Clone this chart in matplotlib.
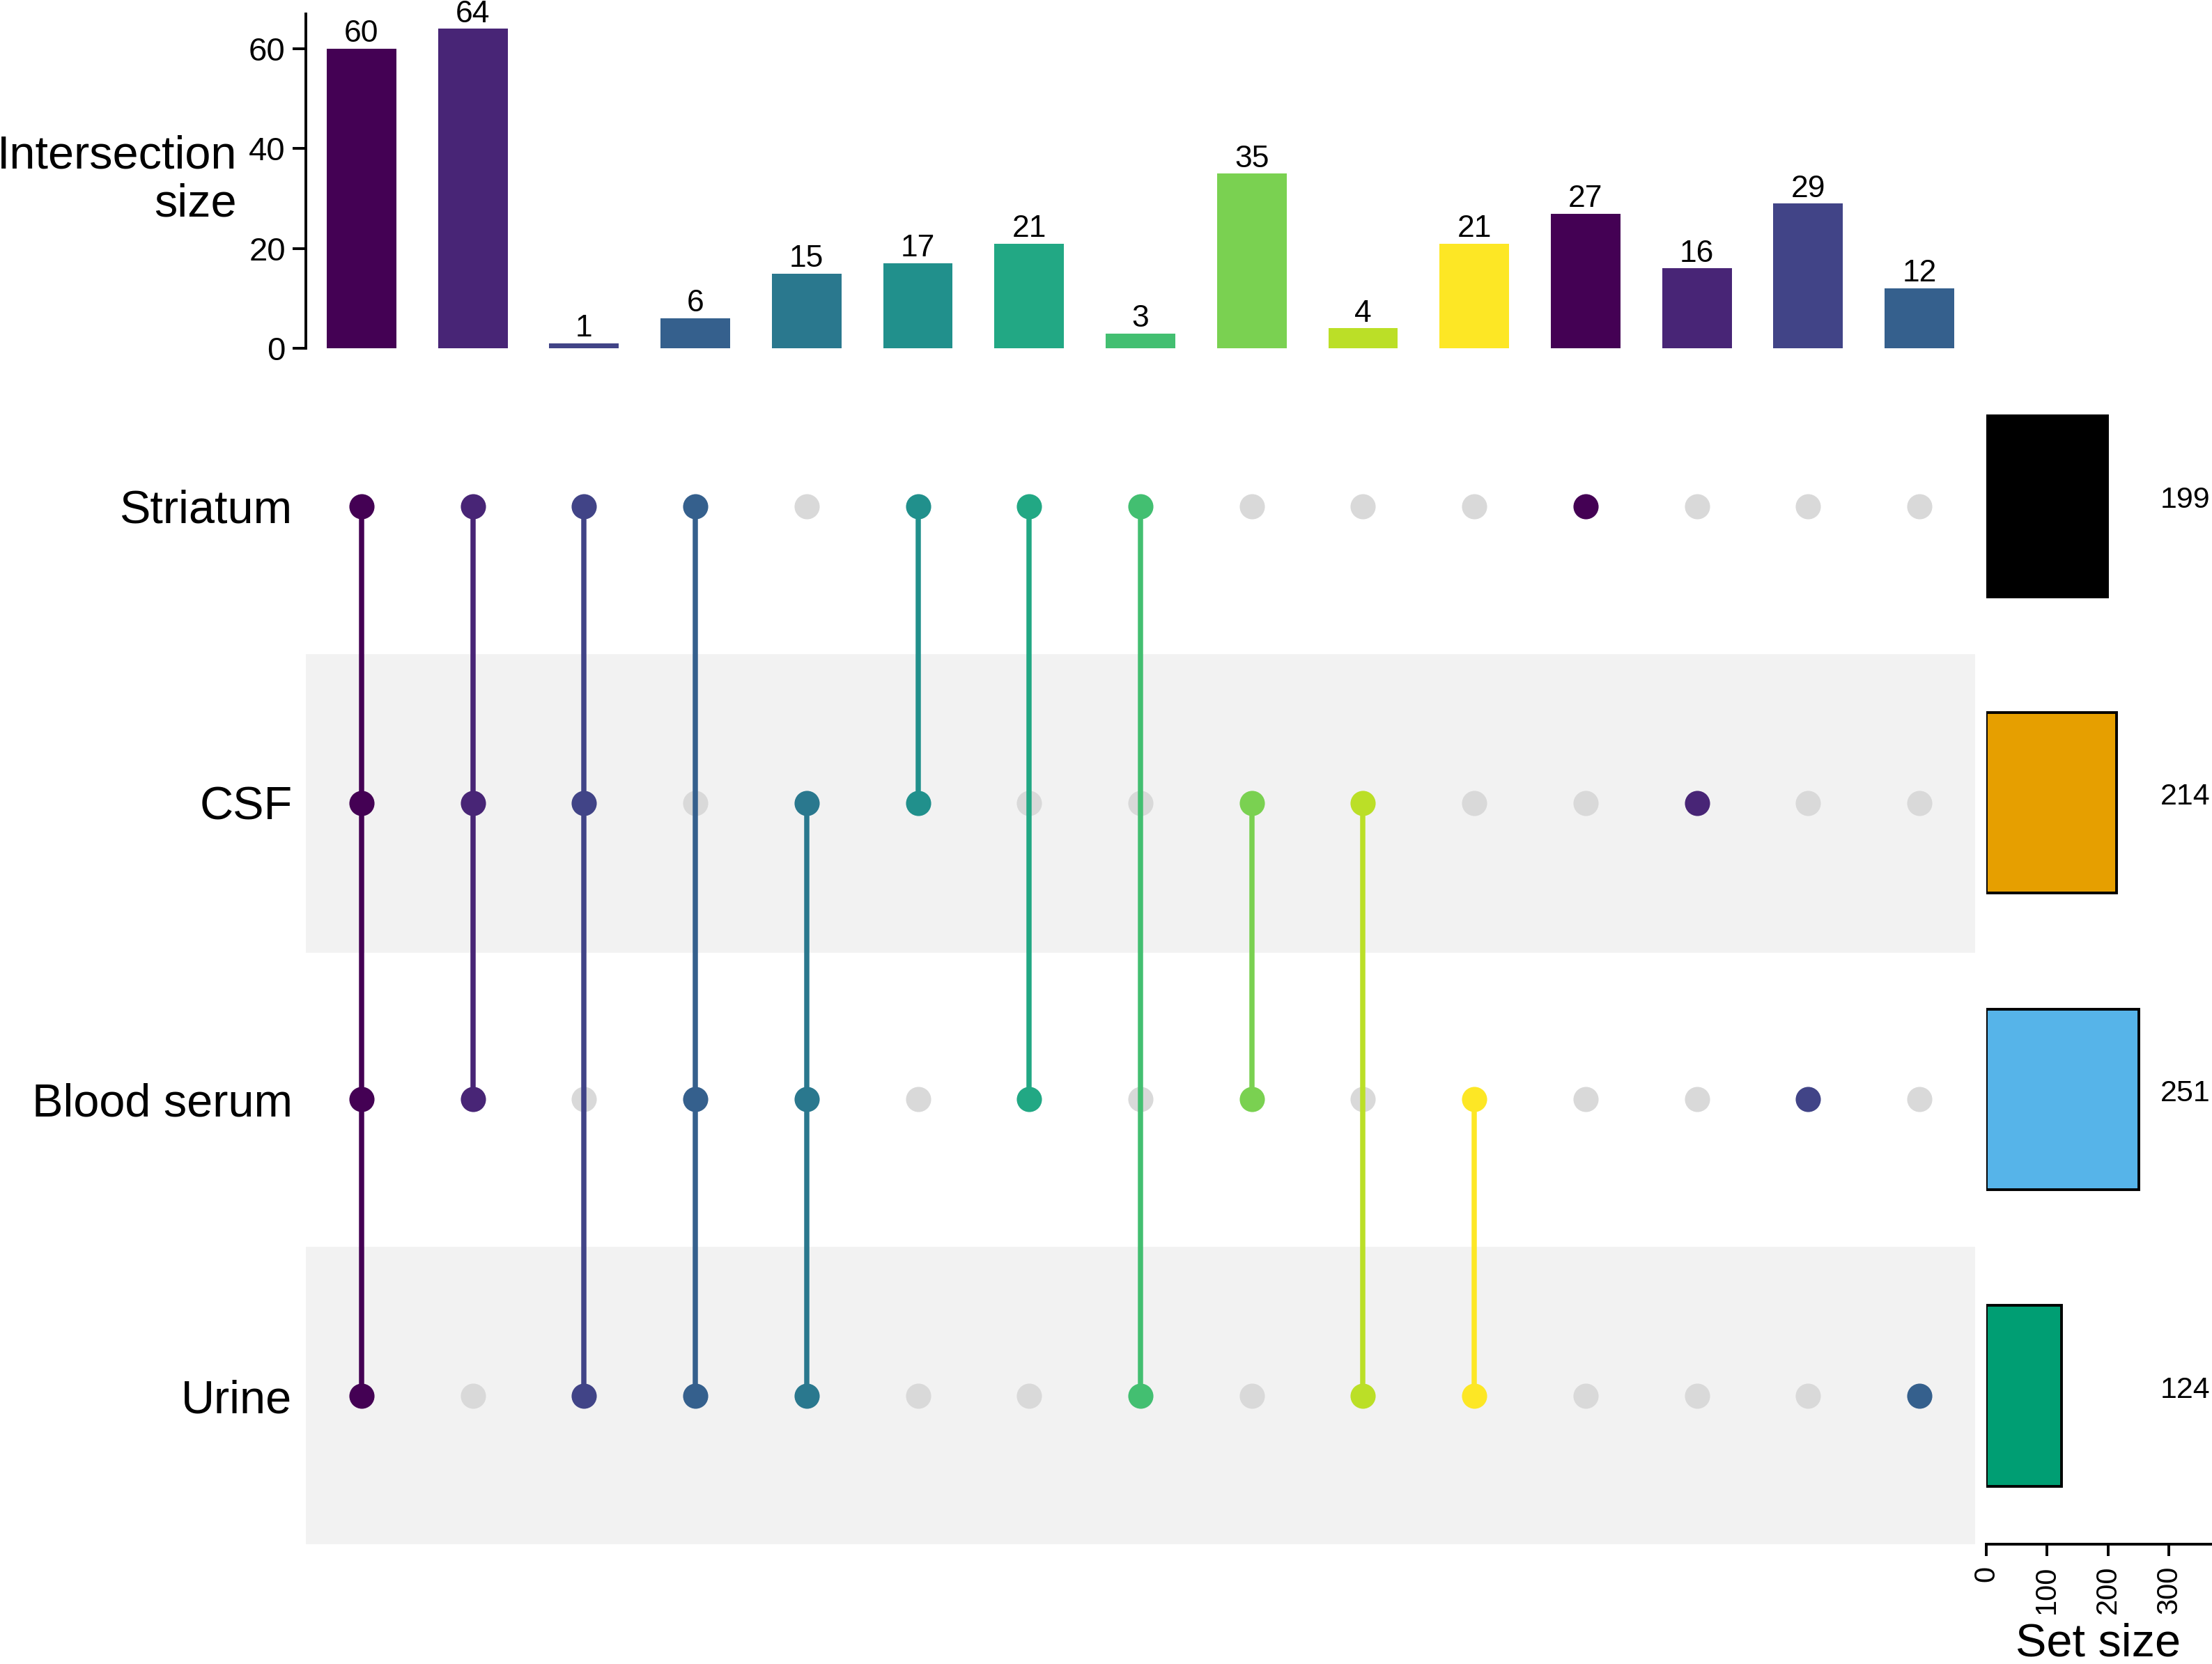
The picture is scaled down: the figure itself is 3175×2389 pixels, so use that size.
import matplotlib
matplotlib.use("Agg")
import matplotlib.pyplot as plt
import numpy as np

plt.rcParams['font.family'] = ['Liberation Sans', 'DejaVu Sans']

# sets, from top to bottom
sets = ["Striatum", "CSF", "Blood serum", "Urine"]
set_sizes = [199, 214, 251, 124]
set_colors = ["#000000", "#E69F00", "#56B4E9", "#009E73"]

# intersections (columns, left to right)
inter_sizes = [60, 64, 1, 6, 15, 17, 21, 3, 35, 4, 21, 27, 16, 29, 12]
members = [
    ["Striatum", "CSF", "Blood serum", "Urine"],
    ["Striatum", "CSF", "Blood serum"],
    ["Striatum", "CSF", "Urine"],
    ["Striatum", "Blood serum", "Urine"],
    ["CSF", "Blood serum", "Urine"],
    ["Striatum", "CSF"],
    ["Striatum", "Blood serum"],
    ["Striatum", "Urine"],
    ["CSF", "Blood serum"],
    ["CSF", "Urine"],
    ["Blood serum", "Urine"],
    ["Striatum"],
    ["CSF"],
    ["Blood serum"],
    ["Urine"],
]
palette = ["#440154", "#482576", "#414487", "#35608D", "#2A788E", "#21908C",
           "#22A884", "#43BF71", "#7AD151", "#BBDF27", "#FDE725"]
col_colors = [palette[i % len(palette)] for i in range(len(inter_sizes))]

W, H = 3175, 2389
fig = plt.figure(figsize=(W / 200, H / 200), dpi=200)

x0, x1 = 439 / W, 2835 / W
ax_bar = fig.add_axes([x0, 1 - 500 / H, x1 - x0, 480 / H])
ax_mat = fig.add_axes([x0, 1 - 2217 / H, x1 - x0, (2217 - 514) / H])
ax_set = fig.add_axes([2851 / W, 1 - 2217 / H, 1 - 2851 / W, (2217 - 514) / H])

n = len(inter_sizes)
xs = np.arange(n)

# intersection size bars
ax_bar.bar(xs, inter_sizes, width=0.625, color=col_colors)
for x, v in zip(xs, inter_sizes):
    ax_bar.text(x, v + 0.1, str(v), ha='center', va='bottom', fontsize=16)
ax_bar.set_xlim(-0.5, n - 0.5)
ax_bar.set_ylim(0, 67)
ax_bar.set_yticks([0, 20, 40, 60])
ax_bar.set_xticks([])
for s in ['top', 'right', 'bottom']:
    ax_bar.spines[s].set_visible(False)
ax_bar.spines['left'].set_linewidth(1.4)
ax_bar.tick_params(axis='y', labelsize=17, width=1.4, length=7)
fig.text(340 / W, 1 - 259 / H, "Intersection\nsize", ha='right', va='center',
         multialignment='right', fontsize=24, linespacing=1.15)

# matrix
nrow = len(sets)
ys = {name: nrow - 1 - i for i, name in enumerate(sets)}
for i, name in enumerate(sets):
    if i % 2 == 1:
        ax_mat.axhspan(ys[name] - 0.5, ys[name] + 0.5, color='#f2f2f2', zorder=0)
for x in xs:
    for name in sets:
        if name not in members[x]:
            ax_mat.plot(x, ys[name], 'o', ms=13, color='#d9d9d9', mec='none', zorder=2)
    yy = [ys[m] for m in members[x]]
    if len(yy) > 1:
        ax_mat.plot([x, x], [min(yy), max(yy)], color=col_colors[x], lw=2.7, zorder=3)
    ax_mat.plot([x] * len(yy), yy, 'o', ms=13, color=col_colors[x], mec='none', zorder=4)
ax_mat.set_xlim(-0.5, n - 0.5)
ax_mat.set_ylim(-0.5, nrow - 0.5)
ax_mat.set_xticks([])
ax_mat.set_yticks([ys[s] for s in sets])
ax_mat.set_yticklabels(sets, fontsize=24)
ax_mat.tick_params(axis='y', length=0, pad=7)
for s in ax_mat.spines.values():
    s.set_visible(False)

# set size bars
ax_set.barh([ys[s] for s in sets], set_sizes, height=0.61, color=set_colors,
            edgecolor='black', linewidth=1.4)
for s, v in zip(sets, set_sizes):
    ax_set.text(286, ys[s] + 0.02, str(v), ha='left', va='center', fontsize=15.5)
ax_set.set_xlim(0, 371)
ax_set.set_ylim(-0.5, nrow - 0.5)
ax_set.set_yticks([])
ax_set.set_xticks([0, 100, 200, 300])
ax_set.tick_params(axis='x', labelsize=15, labelrotation=90, width=1.4,
                   length=6, pad=5)
for s in ['top', 'right', 'left']:
    ax_set.spines[s].set_visible(False)
ax_set.spines['bottom'].set_linewidth(1.4)
fig.text(3012 / W, 1 - 2377 / H, "Set size", ha='center', va='baseline', fontsize=24)

fig.savefig("out.png", dpi=200)
